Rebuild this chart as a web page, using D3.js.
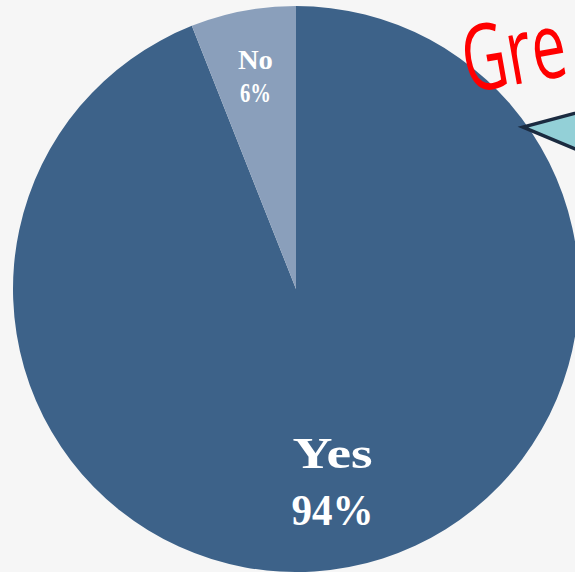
<!DOCTYPE html>
<html>
<head>
<meta charset="utf-8">
<script src="https://cdn.jsdelivr.net/npm/d3@7"></script>
<style>
  html, body { margin: 0; padding: 0; background: #f6f6f6; overflow: hidden; }
  svg { display: block; }
</style>
</head>
<body>
<svg id="chart" width="575" height="572"></svg>
<script>
// Survey answers
const categories = ["Yes", "No"];
const values = [94, 6];
const percentLabels = ["94%", "6%"];

const W = 575, H = 572;
const cx = 296, cy = 289, radius = 283;

const colors = d3.scaleOrdinal().domain(categories).range(["#3d6289", "#8a9fbb"]);

// label styling per slice
const labelStyle = {
  Yes: { size: 45, rFrac: 0.69, line1: -0.29, line2: 0.98, len1: 80, len2: 82 },
  No:  { size: 27, rFrac: 0.766, line1: -0.26, line2: 0.96, len1: 35, len2: 31 }
};

const svg = d3.select("#chart");
svg.append("rect").attr("width", W).attr("height", H).attr("fill", "#f6f6f6");

const g = svg.append("g").attr("transform", `translate(${cx},${cy})`);

const pie = d3.pie().sort(null).value(d => d.value);
const arcs = pie(categories.map((c, i) => ({ name: c, value: values[i], label: percentLabels[i] })));

const arc = d3.arc().innerRadius(0).outerRadius(radius);

g.selectAll("path.slice")
  .data(arcs)
  .join("path")
  .attr("class", "slice")
  .attr("d", arc)
  .attr("fill", d => colors(d.data.name));

const labels = g.selectAll("g.label")
  .data(arcs)
  .join("g")
  .attr("class", "label")
  .attr("transform", d => {
    const s = labelStyle[d.data.name];
    const r = radius * s.rFrac;
    const c = d3.arc().innerRadius(r).outerRadius(r).centroid(d);
    return `translate(${c[0]},${c[1]})`;
  });

labels.each(function(d) {
  const s = labelStyle[d.data.name];
  const sel = d3.select(this);
  const common = t => t
    .attr("text-anchor", "middle")
    .attr("fill", "#ffffff")
    .attr("font-family", "'Liberation Serif', 'DejaVu Serif', serif")
    .attr("font-weight", "bold")
    .attr("font-size", s.size)
    .attr("lengthAdjust", "spacingAndGlyphs");
  sel.append("text").call(common)
    .attr("y", s.line1 * s.size)
    .attr("textLength", s.len1)
    .text(d.data.name);
  sel.append("text").call(common)
    .attr("y", s.line2 * s.size)
    .attr("textLength", s.len2)
    .text(d.data.label);
});

// callout pointer
svg.append("path")
  .attr("d", d3.line()([[640, 96], [523, 127], [640, 176]]))
  .attr("fill", "#93d0d7")
  .attr("stroke", "#1b2b40")
  .attr("stroke-width", 3.5)
  .attr("stroke-linejoin", "miter");

// handwritten note
svg.append("text")
  .attr("transform", "translate(468,93) rotate(-10)")
  .attr("font-family", "'Open Sans', 'Noto Sans', sans-serif")
  .attr("font-size", 92)
  .attr("font-weight", 400)
  .attr("fill", "#ff0000")
  .attr("textLength", 104)
  .attr("lengthAdjust", "spacingAndGlyphs")
  .text("Gre");
</script>
</body>
</html>
